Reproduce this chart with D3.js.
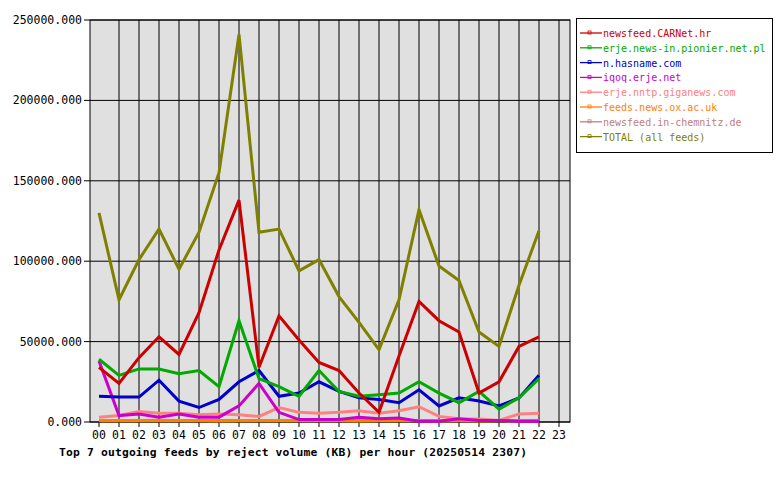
<!DOCTYPE html>
<html><head><meta charset="utf-8">
<script src="https://cdn.jsdelivr.net/npm/d3@7"></script>
<style>body{margin:0;background:#fff}text{font-family:"DejaVu Sans Mono",monospace}</style>
</head><body><svg id="c" width="780" height="480"></svg>
<script>
const hours = d3.range(24).map(h => String(h).padStart(2, "0"));
const names = ["newsfeed.CARNet.hr", "erje.news-in.pionier.net.pl", "n.hasname.com", "iqoq.erje.net",
  "erje.nntp.giganews.com", "feeds.news.ox.ac.uk", "newsfeed.in-chemnitz.de", "TOTAL (all feeds)"];
const colors = ["#cc0000", "#00aa00", "#0000cc", "#cc00cc", "#ff8080", "#ff8000", "#c08080", "#808000"];
const carnet = [34000,24000,40000,53000,42000,68000,107000,138000,34000,66000,51000,37000,32000,18000,6000,41000,75000,63000,56000,18000,25000,47000,53000];
const pionier = [39000,29000,33000,33000,30000,32000,22000,63000,27000,22000,16000,32000,19000,16000,17000,18000,25000,18000,12000,19000,8000,15000,27000];
const hasname = [16000,15500,15500,26000,13000,9000,14000,25000,32000,16000,18000,25000,19000,15000,14000,12000,20000,10000,15000,13000,10000,15000,29000];
const iqoq = [38000,4000,5000,3000,5000,3000,3000,10000,24000,6000,1500,1500,1500,3000,2000,2500,500,500,2000,1000,1000,500,500];
const giganews = [3000,4000,6500,5500,5500,4500,5000,4500,3500,9000,6000,5500,6000,7000,5500,7000,9500,3500,2000,1800,1000,5000,5500];
const oxac = [800,800,700,700,800,800,600,700,800,700,700,800,700,600,700,700,800,600,700,600,700,600,700];
const chemnitz = [1000,900,1000,1100,900,1000,1000,900,1000,1000,900,1000,1000,1100,900,1000,1000,900,1000,1000,900,1000,1000];
const total = [130000,76000,101000,120000,95000,118000,155000,241000,118000,120000,94000,101000,78000,62000,45000,76000,132000,97000,88000,56000,47000,85000,119000];
const series = [carnet, pionier, hasname, iqoq, giganews, oxac, chemnitz, total];
const yTicks = [0, 50000, 100000, 150000, 200000, 250000];

const svg = d3.select("#c");
const x = d3.scaleLinear().domain([-0.45, 23.55]).range([90, 570]);
const y = d3.scaleLinear().domain([0, 250000]).range([422, 20]);

svg.append("rect").attr("x", 90).attr("y", 20).attr("width", 480).attr("height", 402).attr("fill", "#e0e0e0");
// grid
svg.append("g").selectAll("line").data(d3.range(1, 24)).join("line")
  .attr("x1", d => x(d)).attr("x2", d => x(d)).attr("y1", 20).attr("y2", 422).attr("stroke", "#000");
svg.append("g").selectAll("line").data(yTicks).join("line")
  .attr("x1", 84).attr("x2", 570).attr("y1", d => y(d)).attr("y2", d => y(d)).attr("stroke", "#000");
svg.append("rect").attr("x", 90).attr("y", 20).attr("width", 480).attr("height", 402).attr("fill", "none").attr("stroke", "#000");
svg.append("g").selectAll("line").data(d3.range(24)).join("line")
  .attr("x1", d => x(d)).attr("x2", d => x(d)).attr("y1", 422).attr("y2", 427).attr("stroke", "#000");

svg.append("g").selectAll("text").data(yTicks).join("text")
  .attr("x", 82).attr("y", d => y(d) + 4).attr("text-anchor", "end").attr("font-size", 11.5)
  .text(d => d + ".000");
svg.append("g").selectAll("text").data(hours).join("text")
  .attr("x", (d, i) => x(i)).attr("y", 439).attr("text-anchor", "middle").attr("font-size", 11.5).text(d => d);
svg.append("text").attr("x", 59).attr("y", 456).attr("font-size", 11.3).attr("font-weight", "bold")
  .attr("textLength", 468).attr("lengthAdjust", "spacing")
  .text("Top 7 outgoing feeds by reject volume (KB) per hour (20250514 2307)");

const line = d3.line().x((d, i) => x(i)).y(d => y(d));
svg.append("g").selectAll("path").data(series.map((s, i) => i).reverse()).join("path")
  .attr("d", i => line(series[i])).attr("fill", "none").attr("stroke", i => colors[i])
  .attr("stroke-width", 3).attr("stroke-linejoin", "miter");

// legend
svg.append("rect").attr("x", 576.5).attr("y", 18.5).attr("width", 196).attr("height", 134).attr("fill", "#fff").attr("stroke", "#000");
const lg = svg.append("g").selectAll("g").data(names).join("g")
  .attr("transform", (d, i) => `translate(580,${33 + i * 14.8})`);
lg.append("line").attr("x1", 0).attr("x2", 22).attr("stroke", (d, i) => colors[i]).attr("stroke-width", 1.3);
lg.append("rect").attr("x", 8).attr("y", -2).attr("width", 3).attr("height", 3).attr("fill", "none").attr("stroke", (d, i) => colors[i]).attr("stroke-width", 0.8);
lg.append("text").attr("x", 23).attr("y", 4).attr("font-size", 10).attr("fill", (d, i) => colors[i]).text(d => d);
</script></body></html>
